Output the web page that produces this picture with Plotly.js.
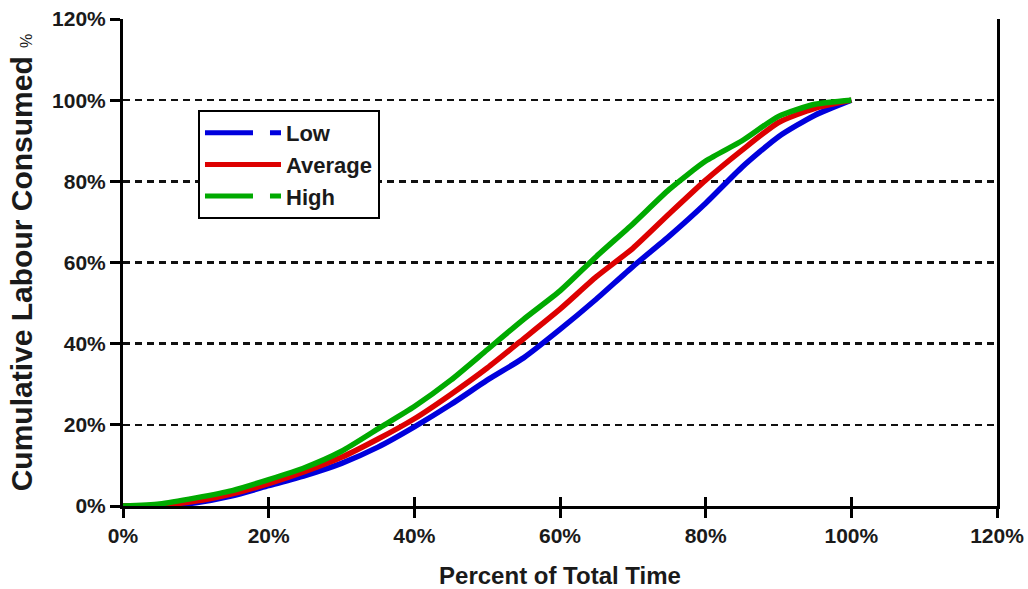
<!DOCTYPE html>
<html>
<head>
<meta charset="utf-8">
<script src="https://cdn.plot.ly/plotly-3.0.1.min.js"></script>
<style>html,body{margin:0;padding:0;background:#fff;}#chart{width:1028px;height:589px;}</style>
</head>
<body>
<div id="chart"></div>
<script>
// Percent of total time (x) and cumulative labour consumed (%) per scenario
const timePct = [0, 5, 10, 15, 20, 25, 30, 35, 40, 45, 50, 55, 60, 65, 70, 75, 80, 85, 90, 95, 100];
const lowPct  = [0, 0, 0.8, 2.5, 5, 7.5, 10.5, 14.5, 19.5, 25, 31, 36.5, 43.5, 51, 59, 66.5, 74.6, 83.5, 91, 96.3, 100];
const avgPct  = [0, 0.2, 1.2, 3, 5.5, 8.5, 12, 16.5, 21.5, 27.5, 34, 41.2, 48.5, 56.5, 63.5, 72, 80.3, 87.7, 94.5, 98, 100];
const highPct = [0, 0.5, 2, 3.8, 6.5, 9.5, 13.5, 19, 24.5, 31, 38.5, 46, 53, 61.5, 69.5, 78, 85, 90, 96, 99, 100];
const seriesNames = ['Low', 'Average', 'High'];
const tickVals = [0, 20, 40, 60, 80, 100, 120];
const tickText = ['0%', '20%', '40%', '60%', '80%', '100%', '120%'];

const colors = ['#0000dd', '#dd0000', '#00aa00'];
const legendDash = ['48px,17px', 'solid', '48px,17px'];
const seriesY = [lowPct, avgPct, highPct];
const FONT = 'Liberation Sans, Arial, sans-serif';

const traces = [];
seriesY.forEach((ys, i) => {
  traces.push({
    x: timePct, y: ys, type: 'scatter', mode: 'lines',
    line: {color: colors[i], width: 5.5, shape: 'spline', smoothing: 0.6},
    name: seriesNames[i], showlegend: false, hoverinfo: 'x+y'
  });
});
seriesY.forEach((ys, i) => {
  traces.push({
    x: [null], y: [null], type: 'scatter', mode: 'lines',
    line: {color: colors[i], width: 5, dash: legendDash[i]},
    name: seriesNames[i], showlegend: true
  });
});
// invisible trace to carry the crossing tick marks on the x axis
traces.push({x: [0, 120], y: [0, 0], xaxis: 'x2', yaxis: 'y', mode: 'none', showlegend: false, hoverinfo: 'skip'});

const tickFont = {family: FONT, size: 21, color: '#1a1a1a', weight: 'bold'};

const layout = {
  width: 1028, height: 589,
  margin: {l: 123, r: 31, t: 19, b: 83},
  paper_bgcolor: '#fff', plot_bgcolor: '#fff',
  font: {family: FONT, color: '#1a1a1a'},
  xaxis: {
    range: [0, 120], tickvals: tickVals, ticktext: tickText,
    showgrid: false, zeroline: false,
    showline: true, linecolor: '#000', linewidth: 3,
    ticks: 'outside', ticklen: 9, tickwidth: 3, tickcolor: '#000',
    tickfont: tickFont,
    title: {text: 'Percent of Total Time', font: {family: FONT, size: 24, color: '#1a1a1a', weight: 'bold'}, standoff: 21}
  },
  xaxis2: {
    overlaying: 'x', matches: 'x', range: [0, 120], tickvals: tickVals,
    showticklabels: false, showgrid: false, zeroline: false, showline: false,
    ticks: 'inside', ticklen: 9, tickwidth: 3, tickcolor: '#000', anchor: 'y'
  },
  yaxis: {
    range: [0, 120], tickvals: tickVals, ticktext: tickText,
    showgrid: true, gridcolor: '#111', gridwidth: 2.5, griddash: '7px,5px',
    zeroline: false,
    showline: true, linecolor: '#000', linewidth: 3, mirror: true,
    ticks: 'outside', ticklen: 10, tickwidth: 3, tickcolor: '#000',
    tickfont: tickFont,
    title: {text: 'Cumulative Labour Consumed <span style="font-size:16px;font-weight:normal">%</span>',
            font: {family: FONT, size: 30, color: '#1a1a1a', weight: 'bold'}, standoff: 11}
  },
  legend: {
    x: 0.0858, y: 0.813, xanchor: 'left', yanchor: 'top',
    bgcolor: '#fff', bordercolor: '#000', borderwidth: 2,
    font: {family: FONT, size: 22, color: '#1a1a1a', weight: 'bold'},
    itemwidth: 76, tracegroupgap: 0
  },
  showlegend: true
};

Plotly.newPlot('chart', traces, layout, {staticPlot: true, displayModeBar: false});
</script>
</body>
</html>
